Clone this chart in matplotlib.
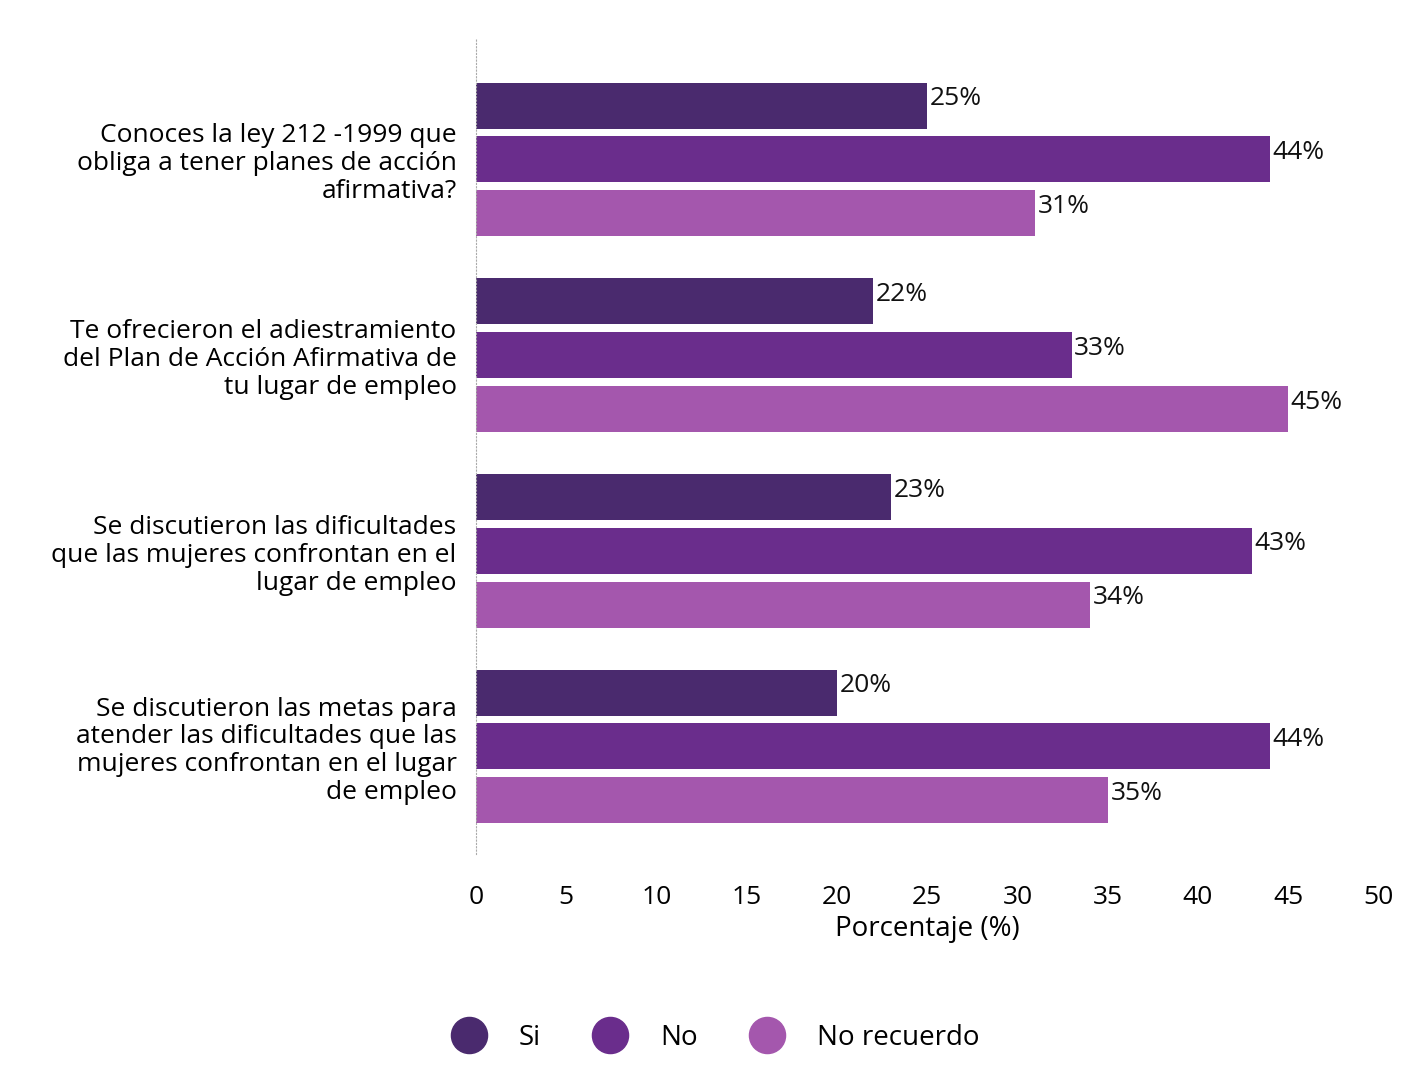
import matplotlib
matplotlib.use("Agg")
import matplotlib.pyplot as plt
import numpy as np
from matplotlib.lines import Line2D

plt.rcParams['font.family'] = ['Open Sans', 'DejaVu Sans']

questions = [
    "Conoces la ley 212 -1999 que\nobliga a tener planes de acción\nafirmativa?",
    "Te ofrecieron el adiestramiento\ndel Plan de Acción Afirmativa de\ntu lugar de empleo",
    "Se discutieron las dificultades\nque las mujeres confrontan en el\nlugar de empleo",
    "Se discutieron las metas para\natender las dificultades que las\nmujeres confrontan en el lugar\nde empleo",
]
series_names = ["Si", "No", "No recuerdo"]
si = [25, 22, 23, 20]
no = [44, 33, 43, 44]
no_recuerdo = [31, 45, 34, 35]
xticks = [0, 5, 10, 15, 20, 25, 30, 35, 40, 45, 50]
colors = ["#4a2a6e", "#6a2d8c", "#a457ad"]

fig = plt.figure(figsize=(14.21, 10.88), dpi=100)
ax = fig.add_axes([0.335, 0.215, 0.635, 0.75])

n = len(questions)
ypos = np.arange(n)
h = 0.235
offsets = [-0.275, 0.0, 0.275]
for vals, off, col in zip([si, no, no_recuerdo], offsets, colors):
    bars = ax.barh(ypos + off, vals, height=h, color=col)
    for b, v in zip(bars, vals):
        ax.text(v + 0.15, b.get_y() + b.get_height() * 0.35, f"{v}%",
                va="center", ha="left", fontsize=19, color="#111111")

ax.set_yticks(ypos)
ax.set_yticklabels(questions, fontsize=19, ha="right", linespacing=1.15)
ax.invert_yaxis()
ax.set_ylim(n - 0.5 + 0.05, -0.62)
ax.set_xlim(0, 50)
ax.set_xticks(xticks)
ax.set_xticklabels([str(t) for t in xticks], fontsize=19)
ax.tick_params(axis="both", length=0, pad=14)
ax.tick_params(axis="x", pad=22)
for s in ["top", "right", "bottom"]:
    ax.spines[s].set_visible(False)
ax.spines["left"].set_color("#aaaaaa")
ax.spines["left"].set_linestyle((0, (1, 2)))
ax.set_xlabel("Porcentaje (%)", fontsize=20, labelpad=4)

handles = [Line2D([0], [0], marker="o", linestyle="none", markersize=26,
                  markerfacecolor=c, markeredgecolor=c) for c in colors]
fig.legend(handles, series_names, loc="lower center", bbox_to_anchor=(0.5, 0.01),
           ncol=3, frameon=False, fontsize=20, handletextpad=0.8, columnspacing=1.5)

fig.savefig("out.png", dpi=100, facecolor="white")
